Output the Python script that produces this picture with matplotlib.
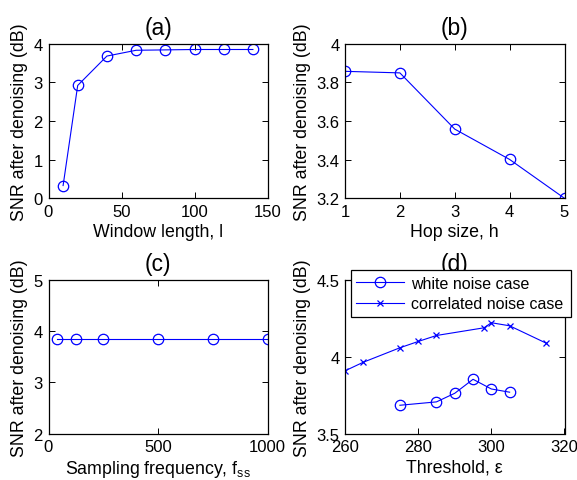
import matplotlib
matplotlib.use("Agg")
import matplotlib.pyplot as plt

plt.rcParams['font.family'] = ['Liberation Sans', 'DejaVu Sans']
plt.rcParams['mathtext.default'] = 'regular'
plt.rcParams['font.size'] = 12.8

# (a)
win_len = [10, 20, 40, 60, 80, 100, 120, 140]
snr_a = [0.33, 2.92, 3.68, 3.83, 3.84, 3.85, 3.85, 3.85]
# (b)
hop = [1, 2, 3, 4, 5]
snr_b = [3.857, 3.849, 3.558, 3.401, 3.20]
# (c)
fss = [40, 125, 250, 500, 750, 1000]
snr_c = [3.85, 3.85, 3.85, 3.85, 3.85, 3.85]
# (d)
thr_white = [275, 285, 290, 295, 300, 305]
snr_white = [3.685, 3.707, 3.763, 3.854, 3.791, 3.770]
thr_corr = [260, 265, 275, 280, 285, 298, 300, 305, 315]
snr_corr = [3.909, 3.965, 4.059, 4.100, 4.139, 4.189, 4.222, 4.202, 4.089]

blue = '#0000ff'
fig = plt.figure(figsize=(5.77, 4.81), dpi=100)

W, H = 577, 481
def ax_at(l, t, r, b):
    return fig.add_axes([l / W, (H - b) / H, (r - l) / W, (b - t) / H])

axa = ax_at(48.5, 44.7, 267.5, 199.3)
axb = ax_at(345, 44.7, 564.5, 199.3)
axc = ax_at(48.5, 281, 267.5, 434.7)
axd = ax_at(345, 281, 564.5, 434.7)

ylab = 'SNR after denoising (dB)'
mk = dict(color=blue, lw=0.8, marker='o', mfc='none', mec=blue, ms=7.5, mew=0.9)
tfs = 16.5
tpad = 7

axa.plot(win_len, snr_a, **mk)
axa.set_xlim(0, 150); axa.set_ylim(0, 4)
axa.set_xticks([0, 50, 100, 150]); axa.set_yticks([0, 1, 2, 3, 4])
axa.set_xlabel('Window length, l'); axa.set_ylabel(ylab)
axa.set_title('(a)', fontsize=tfs, pad=tpad)

axb.plot(hop, snr_b, **mk)
axb.set_xlim(1, 5); axb.set_ylim(3.2, 4)
axb.set_xticks([1, 2, 3, 4, 5]); axb.set_yticks([3.2, 3.4, 3.6, 3.8, 4])
axb.set_yticklabels(['3.2', '3.4', '3.6', '3.8', '4'])
axb.set_xlabel('Hop size, h'); axb.set_ylabel(ylab)
axb.set_title('(b)', fontsize=tfs, pad=tpad)

axc.plot(fss, snr_c, **mk)
axc.set_xlim(0, 1000); axc.set_ylim(2, 5)
axc.set_xticks([0, 500, 1000]); axc.set_yticks([2, 3, 4, 5])
axc.set_xlabel('Sampling frequency, f$_{ss}$'); axc.set_ylabel(ylab)
axc.set_title('(c)', fontsize=tfs, pad=tpad)

axd.plot(thr_white, snr_white, label='white noise case', **mk)
axd.plot(thr_corr, snr_corr, color=blue, lw=0.8, marker='x', ms=5, mew=0.9,
         label='correlated noise case')
axd.set_xlim(260, 320); axd.set_ylim(3.5, 4.5)
axd.set_xticks([260, 280, 300, 320]); axd.set_yticks([3.5, 4, 4.5])
axd.set_yticklabels(['3.5', '4', '4.5'])
axd.set_xlabel('Threshold, \u03b5'); axd.set_ylabel(ylab)
axd.set_title('(d)', fontsize=tfs, pad=tpad)
leg = axd.legend(loc='lower left',
                 bbox_to_anchor=(350.7 / W, (H - 317.7) / H, (571 - 350.7) / W, (317.7 - 268.3) / H),
                 bbox_transform=fig.transFigure, mode='expand', fancybox=False,
                 framealpha=1, edgecolor='black', borderaxespad=0, handlelength=3.0,
                 labelspacing=0.35, borderpad=0.35, handletextpad=0.4, fontsize=11.5)
leg.get_frame().set_linewidth(0.9)
leg.set_zorder(10)

for ax in (axa, axb, axc, axd):
    ax.tick_params(direction='in', top=True, right=True, length=4, width=0.7, labelsize=12, pad=4)
    for s in ax.spines.values():
        s.set_linewidth(0.9)
    ax.xaxis.labelpad = 3
    ax.yaxis.labelpad = 4

fig.savefig('out.png', dpi=100)
